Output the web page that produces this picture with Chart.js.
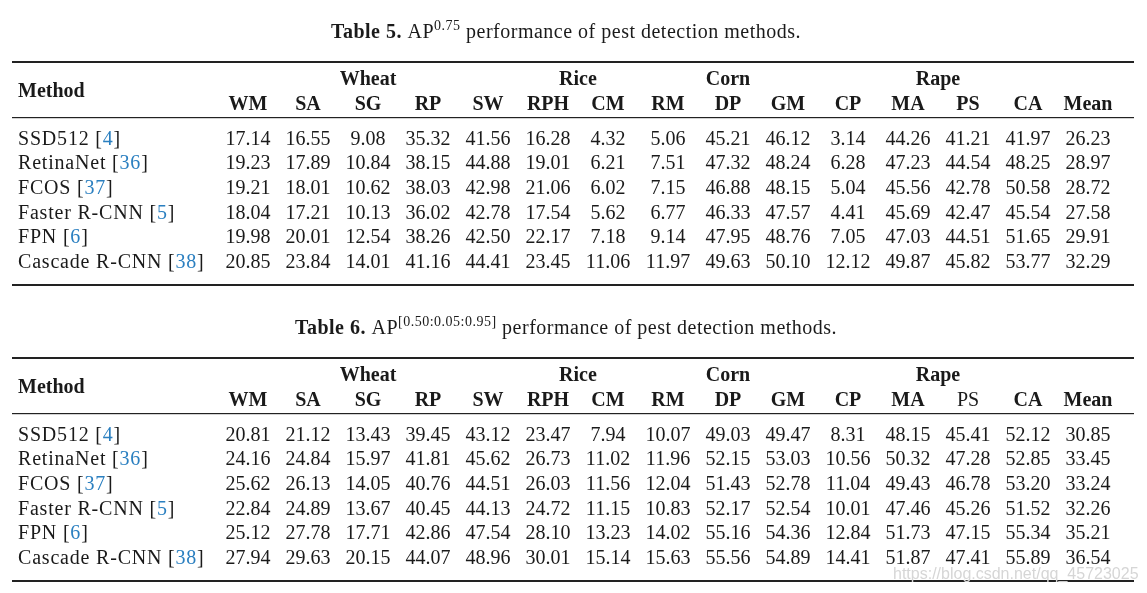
<!DOCTYPE html>
<html>
<head>
<meta charset="utf-8">
<script src="https://cdn.jsdelivr.net/npm/chart.js@4"></script>
<style>
  body { margin: 0; background: #fff; }
  #wrap { position: relative; width: 1147px; height: 593px; overflow: hidden; }
  .tbl { position: absolute; left: 0; width: 1147px; height: 297px; }
  #mark { position: absolute; left: 893px; top: 565px; font: 16px "Liberation Sans", sans-serif; color: #d6d6d6; white-space: nowrap; }
</style>
</head>
<body>
<div id="wrap">
  <div class="tbl" style="top:0"><canvas id="c5"></canvas></div>
  <div class="tbl" style="top:296px"><canvas id="c6"></canvas></div>
  <div id="mark">https://blog.csdn.net/qq_45723025</div>
</div>
<script>
// rows = methods, columns = pest classes
const methods = ['SSD512', 'RetinaNet', 'FCOS', 'Faster R-CNN', 'FPN', 'Cascade R-CNN'];
const refs = ['4', '36', '37', '5', '6', '38'];
const pests = ['WM', 'SA', 'SG', 'RP', 'SW', 'RPH', 'CM', 'RM', 'DP', 'GM', 'CP', 'MA', 'PS', 'CA', 'Mean'];
const crops = ['Wheat', 'Rice', 'Corn', 'Rape'];
const cropFrom = ['WM', 'RPH', 'RM', 'CP'];
const cropTo = ['SW', 'CM', 'GM', 'CA'];

// Table 5: AP^0.75
const ap75 = [
  [17.14, 16.55, 9.08, 35.32, 41.56, 16.28, 4.32, 5.06, 45.21, 46.12, 3.14, 44.26, 41.21, 41.97, 26.23],
  [19.23, 17.89, 10.84, 38.15, 44.88, 19.01, 6.21, 7.51, 47.32, 48.24, 6.28, 47.23, 44.54, 48.25, 28.97],
  [19.21, 18.01, 10.62, 38.03, 42.98, 21.06, 6.02, 7.15, 46.88, 48.15, 5.04, 45.56, 42.78, 50.58, 28.72],
  [18.04, 17.21, 10.13, 36.02, 42.78, 17.54, 5.62, 6.77, 46.33, 47.57, 4.41, 45.69, 42.47, 45.54, 27.58],
  [19.98, 20.01, 12.54, 38.26, 42.50, 22.17, 7.18, 9.14, 47.95, 48.76, 7.05, 47.03, 44.51, 51.65, 29.91],
  [20.85, 23.84, 14.01, 41.16, 44.41, 23.45, 11.06, 11.97, 49.63, 50.10, 12.12, 49.87, 45.82, 53.77, 32.29]
];

// Table 6: AP^[0.50:0.05:0.95]
const apRange = [
  [20.81, 21.12, 13.43, 39.45, 43.12, 23.47, 7.94, 10.07, 49.03, 49.47, 8.31, 48.15, 45.41, 52.12, 30.85],
  [24.16, 24.84, 15.97, 41.81, 45.62, 26.73, 11.02, 11.96, 52.15, 53.03, 10.56, 50.32, 47.28, 52.85, 33.45],
  [25.62, 26.13, 14.05, 40.76, 44.51, 26.03, 11.56, 12.04, 51.43, 52.78, 11.04, 49.43, 46.78, 53.20, 33.24],
  [22.84, 24.89, 13.67, 40.45, 44.13, 24.72, 11.15, 10.83, 52.17, 52.54, 10.01, 47.46, 45.26, 51.52, 32.26],
  [25.12, 27.78, 17.71, 42.86, 47.54, 28.10, 13.23, 14.02, 55.16, 54.36, 12.84, 51.73, 47.15, 55.34, 35.21],
  [27.94, 29.63, 20.15, 44.07, 48.96, 30.01, 15.14, 15.63, 55.56, 54.89, 14.41, 51.87, 47.41, 55.89, 36.54]
];

const SERIF = '"Liberation Serif", "Times New Roman", serif';
const INK = '#1a1a1a';
const BLUE = '#2a7fc0';

// draws title, headers, rules, method names and every cell value
const tablePlugin = {
  id: 'tablePlugin',
  afterDraw(chart) {
    const ctx = chart.ctx;
    const area = chart.chartArea;
    const xs = chart.scales.x;
    const opts = chart.options.plugins.tablePlugin;
    const left = 12, right = 1134;
    ctx.save();
    ctx.fillStyle = INK;
    ctx.textBaseline = 'middle';

    // title
    ctx.letterSpacing = '0.5px';
    const parts = [
      { t: opts.label + ' ', f: 'bold 20px ' + SERIF, dy: 0 },
      { t: 'AP', f: '20px ' + SERIF, dy: 0 },
      { t: opts.sup, f: '14px ' + SERIF, dy: -7 },
      { t: ' performance of pest detection methods.', f: '20px ' + SERIF, dy: 0 }
    ];
    let total = 0;
    parts.forEach(p => { ctx.font = p.f; p.w = ctx.measureText(p.t).width; total += p.w; });
    let tx = 566 - total / 2;
    const ty = area.top - 94;
    ctx.textAlign = 'left';
    parts.forEach(p => { ctx.font = p.f; ctx.fillText(p.t, tx, ty + p.dy); tx += p.w; });
    ctx.letterSpacing = '0px';

    // rules
    ctx.fillStyle = '#222';
    ctx.fillRect(left, area.top - 66, right - left, 2);
    ctx.fillRect(left, area.top - 10, right - left, 1.2);
    ctx.fillRect(left, area.bottom + 9, right - left, 2);
    ctx.fillStyle = INK;

    // header
    ctx.font = 'bold 20px ' + SERIF;
    ctx.fillText('Method', 18, area.top - 35);
    ctx.textAlign = 'center';
    crops.forEach((c, i) => {
      const a = xs.getPixelForValue(pests.indexOf(cropFrom[i]));
      const b = xs.getPixelForValue(pests.indexOf(cropTo[i]));
      ctx.fillText(c, (a + b) / 2, area.top - 47);
    });
    pests.forEach((p, j) => {
      ctx.font = (opts.plain.includes(p) ? '' : 'bold ') + '20px ' + SERIF;
      ctx.fillText(p, xs.getPixelForValue(j), area.top - 22);
    });

    // method names with blue citations
    ctx.textAlign = 'left';
    ctx.font = '20px ' + SERIF;
    ctx.letterSpacing = '0.8px';
    methods.forEach((m, i) => {
      const y = chart.scales.y.getPixelForValue(i);
      let x = 18;
      const seg = [[m + ' [', INK], [refs[i], BLUE], [']', INK]];
      seg.forEach(s => {
        ctx.fillStyle = s[1];
        ctx.fillText(s[0], x, y);
        x += ctx.measureText(s[0]).width;
      });
    });
    ctx.letterSpacing = '0px';

    // cell values at each point of the dataset
    ctx.fillStyle = INK;
    ctx.textAlign = 'center';
    const meta = chart.getDatasetMeta(0);
    meta.data.forEach((el, k) => {
      const v = chart.data.datasets[0].data[k].v;
      ctx.fillText(v.toFixed(2), el.x, el.y);
    });
    ctx.restore();
  }
};

function makeTable(id, label, sup, rows, plain) {
  const points = [];
  rows.forEach((r, i) => r.forEach((v, j) => points.push({ x: pests[j], y: methods[i], v: v })));
  return new Chart(document.getElementById(id), {
    type: 'scatter',
    data: { datasets: [{ data: points, pointRadius: 0, pointHoverRadius: 0 }] },
    options: {
      responsive: true,
      maintainAspectRatio: false,
      animation: false,
      events: [],
      layout: { padding: { left: 218, right: 29, top: 127, bottom: 22 } },
      scales: {
        x: { type: 'category', labels: pests, offset: true, display: false },
        y: { type: 'category', labels: methods, offset: true, display: false }
      },
      plugins: {
        legend: { display: false },
        tooltip: { enabled: false },
        tablePlugin: { label: label, sup: sup, plain: plain }
      }
    },
    plugins: [tablePlugin]
  });
}

makeTable('c5', 'Table 5.', '0.75', ap75, []);
makeTable('c6', 'Table 6.', '[0.50:0.05:0.95]', apRange, ['PS']);
</script>
</body>
</html>
